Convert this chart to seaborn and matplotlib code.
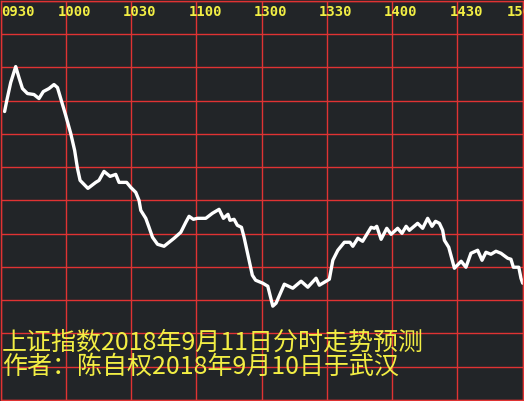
import matplotlib
matplotlib.use("Agg")
import matplotlib.pyplot as plt
import numpy as np
import pandas as pd
import seaborn as sns

# trading minutes since 09:30 (lunch break compressed) and line level
minutes = [1.8, 2.8, 4.6, 6.9, 8.4, 10.0, 12.3, 15.3, 17.6, 19.6, 22.2, 24.5, 26.1, 27.6,
           29.9, 32.2, 34.0, 35.3, 36.5, 40.1, 43.7, 45.2, 47.5, 50.3, 52.9, 54.4, 57.9,
           59.8, 62.1, 63.6, 64.4, 66.7, 68.2, 69.8, 72.1, 75.1, 77.4, 79.7, 82.8, 85.1,
           86.6, 88.6, 90.4, 94.3, 97.3, 100.4, 102.4, 104.5, 105.4, 107.3, 108.8, 110.7,
           111.9, 114.2, 115.7, 117.2, 120.5, 122.8, 125.1, 126.6, 130.4, 134.3, 138.1,
           141.2, 145.0, 146.5, 149.6, 151.1, 152.7, 155.0, 158.0, 160.6, 161.9, 164.2,
           166.4, 170.3, 171.8, 172.9, 174.9, 177.5, 179.5, 182.5, 184.5, 186.4, 187.9,
           191.7, 194.0, 196.3, 198.3, 199.9, 201.7, 203.2, 204.0, 206.0, 208.6, 211.7,
           213.9, 216.2, 219.3, 221.3, 223.1, 225.4, 227.7, 230.0, 233.1, 234.6, 235.7,
           238.2, 239.2, 240.0]
level = [289, 300, 318, 334, 323, 312, 307, 306, 302, 309, 312, 316, 313, 302,
         285, 267, 250, 232, 220, 212, 218, 220, 229, 224, 226, 218, 218,
         213, 208, 200, 190, 182, 173, 163, 156, 154, 158, 162, 168, 178,
         184, 181, 182, 182, 187, 191, 182, 186, 180, 181, 175, 173,
         163, 140, 125, 120, 117, 114, 94, 97, 116, 112, 119,
         113, 122, 115, 119, 121, 140, 150, 158, 158, 154, 162,
         159, 173, 172, 174, 161, 172, 166, 172, 167, 174, 170,
         177, 172, 182, 174, 179, 177, 170, 160, 153, 132, 139,
         133, 147, 150, 140, 148, 146, 149, 147, 142, 141, 133,
         133, 122, 117]

time_ticks = [0, 30, 60, 90, 120, 150, 180, 210, 240]
time_labels = ["0930", "1000", "1030", "1100", "1300", "1330", "1400", "1430", "1500"]

title_lines = ["上证指数2018年9月11日分时走势预测",
               "作者：陈自权2018年9月10日于武汉"]

BG = "#222528"
RED = "#e03333"
YELLOW = "#f2ee44"

sns.set_theme(style="dark")
plt.rcParams['font.family'] = ['Noto Sans CJK SC', 'DejaVu Sans']

fig = plt.figure(figsize=(5.24, 4.01), dpi=100, facecolor=BG)
ax = fig.add_axes([0.7 / 524, 1.0 / 401, 522.0 / 524, 399.3 / 401])
ax.set_facecolor(BG)

df = pd.DataFrame({"minute": minutes, "level": level})
sns.lineplot(data=df, x="minute", y="level", ax=ax, color="white",
             linewidth=2.4, estimator=None)

ax.set_xlim(0, 240)
ax.set_ylim(0, 400)
ax.set_xticks(time_ticks)
ax.set_yticks(np.linspace(0, 400, 13))
ax.grid(True, color=RED, linewidth=1.0)
ax.tick_params(length=0, labelbottom=False, labelleft=False)
ax.set_xlabel("")
ax.set_ylabel("")
for sp in ax.spines.values():
    sp.set_color(RED)
    sp.set_linewidth(1.0)
    sp.set_visible(True)

# time labels drawn inside the top of the panel
for i, (m, lab) in enumerate(zip(time_ticks, time_labels)):
    if i == 0:
        dx = 0
    elif i == len(time_ticks) - 1:
        dx = -16
    else:
        dx = -8
    ax.annotate(lab, xy=(m, 1), xycoords=("data", "axes fraction"),
                xytext=(dx, -4), textcoords="offset pixels",
                ha="left", va="top", color=YELLOW, fontsize=10,
                fontweight="bold", family=["DejaVu Sans Mono"],
                annotation_clip=False)

ax.text(0.002, 0.125, title_lines[0], transform=ax.transAxes, color=YELLOW,
        fontsize=18, ha="left", va="baseline")
ax.text(0.002, 0.065, title_lines[1], transform=ax.transAxes, color=YELLOW,
        fontsize=18, ha="left", va="baseline")

fig.savefig("out.png", dpi=100, facecolor=BG)
